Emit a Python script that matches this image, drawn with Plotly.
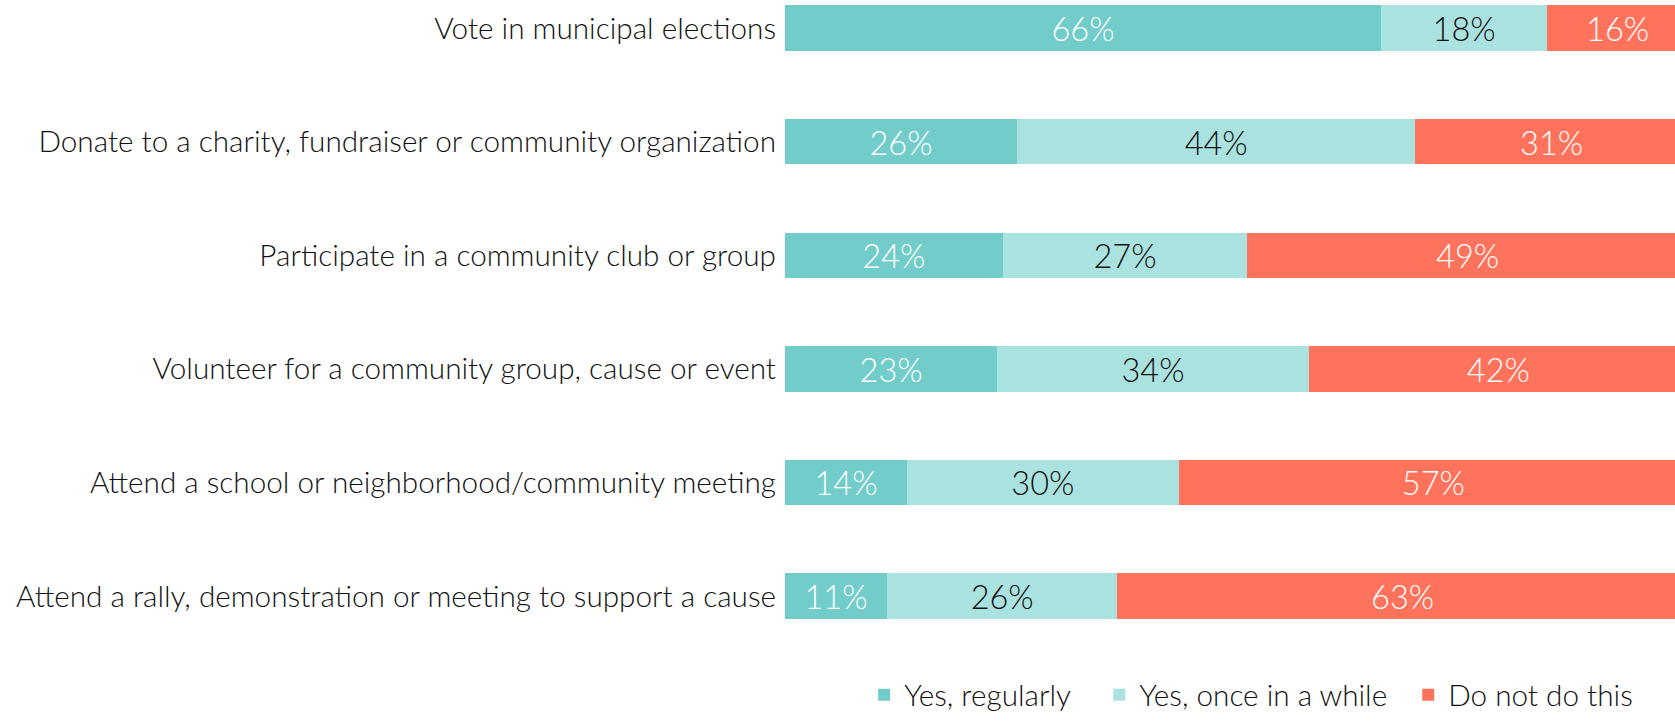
import plotly.graph_objects as go

categories = [
    "Vote in municipal elections",
    "Donate to a charity, fundraiser or community organization",
    "Participate in a community club or group",
    "Volunteer for a community group, cause or event",
    "Attend a school or neighborhood/community meeting",
    "Attend a rally, demonstration or meeting to support a cause",
]
series_names = ["Yes, regularly", "Yes, once in a while", "Do not do this"]
yes_regularly = [66.0, 25.7, 24.1, 23.5, 13.5, 11.3]
yes_once = [18.4, 44.1, 27.1, 34.5, 30.1, 25.5]
do_not = [15.6, 30.2, 48.8, 42.0, 56.4, 63.2]
labels_regularly = ["66%", "26%", "24%", "23%", "14%", "11%"]
labels_once = ["18%", "44%", "27%", "34%", "30%", "26%"]
labels_not = ["16%", "31%", "49%", "42%", "57%", "63%"]

colors = ["#72CDCA", "#AAE2DF", "#FF735C"]
text_colors = ["#FFFFFF", "#111111", "#FFFFFF"]

FONT = "Lato"
PADS = ["\u00a0" * 3, "\u00a0" * 2, ""]

fig = go.Figure()
for name, pad, vals, labs, col, tcol in zip(
    series_names,
    PADS,
    [yes_regularly, yes_once, do_not],
    [labels_regularly, labels_once, labels_not],
    colors,
    text_colors,
):
    fig.add_trace(
        go.Bar(
            y=categories,
            x=vals,
            name=name + pad,
            orientation="h",
            marker=dict(color=col, line=dict(width=0)),
            text=labs,
            textposition="inside",
            insidetextanchor="middle",
            textfont=dict(family=FONT, size=33, color=tcol, weight=300),
            hoverinfo="skip",
        )
    )

fig.update_layout(
    width=1675,
    height=721,
    barmode="stack",
    bargap=0.6,
    plot_bgcolor="white",
    paper_bgcolor="white",
    margin=dict(l=785, r=0, t=0, b=71, autoexpand=False),
    font=dict(family=FONT, size=29.7, color="#111111", weight=300),
    xaxis=dict(
        range=[0, 98.56],
        visible=False,
        showgrid=False,
        zeroline=False,
    ),
    yaxis=dict(
        categoryorder="array",
        categoryarray=categories,
        range=[5.474, -0.248],
        showgrid=False,
        zeroline=False,
        showline=False,
        ticks="",
        ticklabelstandoff=8,
        tickfont=dict(family=FONT, size=29.7, color="#111111", weight=300),
    ),
    legend=dict(
        orientation="h",
        x=0.9586,
        xanchor="right",
        yref="container",
        y=-0.011,
        yanchor="bottom",
        font=dict(family=FONT, size=29.7, color="#111111", weight=300),
        itemclick=False,
        traceorder="normal",
    ),
    uniformtext=dict(mode="show", minsize=10),
)

fig.write_html(
    "out.html",
    config={"displayModeBar": False},
    post_script="document.body.style.margin='0';document.body.style.overflow='hidden';",
)
